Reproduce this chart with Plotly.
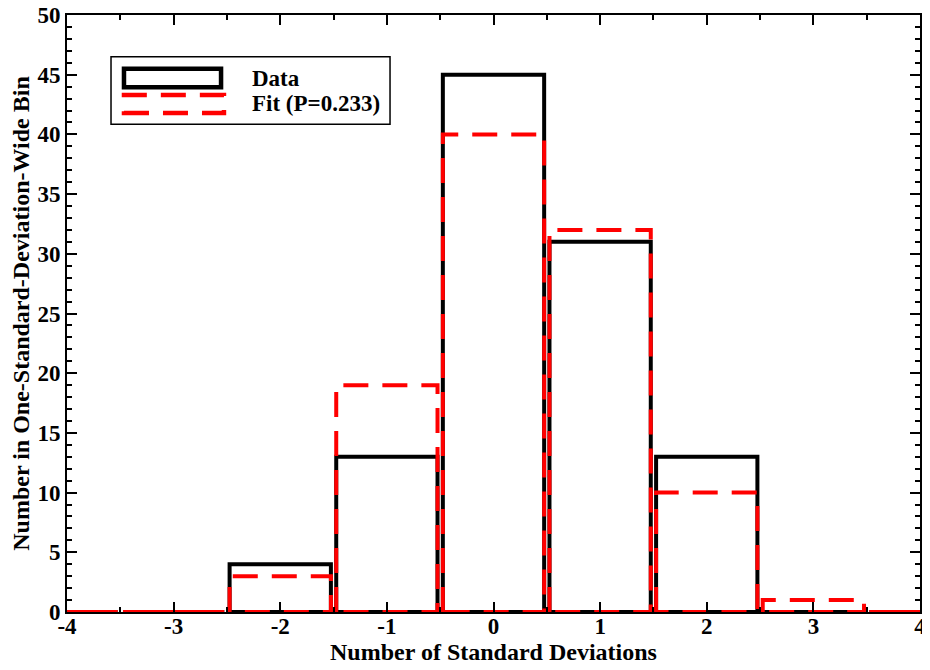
import plotly.graph_objects as go

bin_centers = [-4, -3, -2, -1, 0, 1, 2, 3, 4]
data_counts = [0, 0, 4, 13, 45, 31, 13, 0, 0]
fit_counts = [0, 0, 3, 19, 40, 32, 10, 1, 0]
x_ticks = [-4, -3, -2, -1, 0, 1, 2, 3, 4]
y_ticks = [0, 5, 10, 15, 20, 25, 30, 35, 40, 45, 50]

BAR_W = 0.95
FONT = "Liberation Serif"


def outline(centers, heights, w):
    xs, ys = [], []
    for c, h in zip(centers, heights):
        l, r = c - w / 2, c + w / 2
        xs += [l, l, r, r, l, None]
        ys += [0, h, h, 0, 0, None]
    return xs, ys


fig = go.Figure()
dx, dy = outline(bin_centers, data_counts, BAR_W)
fig.add_trace(go.Scatter(x=dx, y=dy, mode="lines", name="Data",
                         line=dict(color="black", width=4), showlegend=False))
fx, fy = outline(bin_centers, fit_counts, BAR_W)
fig.add_trace(go.Scatter(x=fx, y=fy, mode="lines", name="Fit (P=0.233)",
                         line=dict(color="#ff0000", width=4, dash="25px,14px"),
                         showlegend=False))

axis_common = dict(
    showline=True, linecolor="black", linewidth=2, mirror="ticks",
    ticks="inside", ticklen=10, tickwidth=1.5, tickcolor="black",
    showgrid=False, zeroline=False, automargin=False,
    ticklabeloverflow="allow",
    tickfont=dict(family=FONT, size=23, color="black", weight="bold"),
)
fig.update_xaxes(range=[-4, 4], tickvals=x_ticks,
                 ticktext=[str(v) for v in x_ticks],
                 ticklabelstandoff=-8,
                 minor=dict(dtick=0.5, ticklen=5, tickwidth=1.5, tickcolor="black", ticks="inside"),
                 title=dict(text="Number of Standard Deviations", standoff=6,
                            font=dict(family=FONT, size=24, color="black", weight="bold")),
                 **axis_common)
fig.update_yaxes(range=[0, 50], tickvals=y_ticks,
                 ticktext=[str(v) for v in y_ticks],
                 minor=dict(dtick=1, ticklen=5, tickwidth=1.5, tickcolor="black", ticks="inside"),
                 title=dict(text="Number in One-Standard-Deviation-Wide Bin", standoff=2,
                            font=dict(family=FONT, size=24, color="black", weight="bold")),
                 **axis_common)

# custom legend (box + rectangular swatches)
fig.add_shape(type="rect", xref="paper", yref="paper", x0=0.0516, x1=0.3787, y0=0.817, y1=0.930,
              line=dict(color="black", width=1.5), fillcolor="white", layer="above")
fig.add_shape(type="rect", xref="paper", yref="paper", x0=0.0668, x1=0.1806, y0=0.879, y1=0.910,
              line=dict(color="black", width=4.5), layer="above")
fig.add_shape(type="rect", xref="paper", yref="paper", x0=0.0668, x1=0.1840, y0=0.836, y1=0.866,
              line=dict(color="#ff0000", width=4.5, dash="25px,14px"), layer="above")
fig.add_annotation(xref="paper", yref="paper", x=0.2145, y=0.894, xanchor="left", yanchor="middle",
                   text="Data", showarrow=False,
                   font=dict(family=FONT, size=23, color="black", weight="bold"))
fig.add_annotation(xref="paper", yref="paper", x=0.2145, y=0.852, xanchor="left", yanchor="middle",
                   text="Fit (P=0.233)", showarrow=False,
                   font=dict(family=FONT, size=23, color="black", weight="bold"))

# the page body adds an 8px offset, so the figure is sized to fit the window
fig.update_layout(
    width=922, height=662,
    margin=dict(l=59, r=10, t=7, b=58),
    paper_bgcolor="white", plot_bgcolor="white",
    showlegend=False,
)
fig.write_html("out.html")
